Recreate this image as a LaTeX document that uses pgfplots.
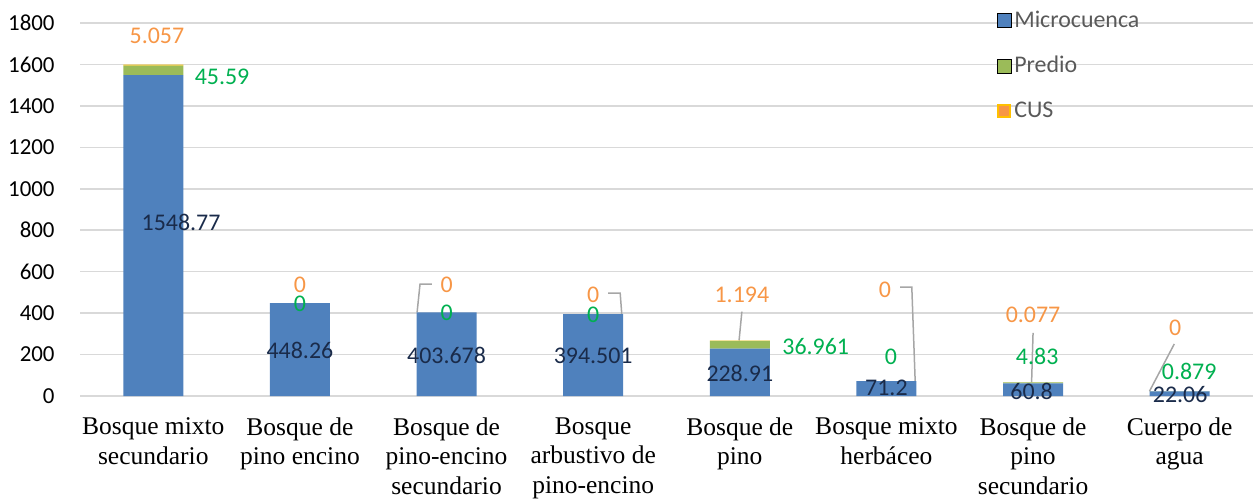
\documentclass[border=0pt]{standalone}
\usepackage{pgfplots}
\pgfplotsset{compat=1.18}
\usepackage{fontspec}
\setmainfont{Liberation Serif}
\newfontfamily\calibri{Carlito}
\definecolor{mcblue}{HTML}{4F81BD}
\definecolor{prgreen}{HTML}{9BBB59}
\definecolor{cusorange}{HTML}{F79646}
\definecolor{cusgold}{HTML}{FFC000}
\definecolor{lblorange}{HTML}{F79646}
\definecolor{lblgreen}{HTML}{00B050}
\definecolor{lblnavy}{HTML}{1A2B4A}
\definecolor{gridgray}{HTML}{D9D9D9}
\definecolor{leadergray}{HTML}{A6A6A6}
\definecolor{legtext}{HTML}{595959}
\tikzset{dl/.style={font=\calibri\fontsize{12}{14}\selectfont, inner sep=0pt, anchor=center},
  ld/.style={draw=leadergray, line width=0.75bp}}
\begin{document}
\begin{tikzpicture}
\useasboundingbox (0,0) rectangle (626.5bp,249.5bp);
\begin{axis}[
  at={(40bp,51.5bp)}, anchor=south west,
  scale only axis, width=586.5bp, height=186.5bp,
  ybar stacked, bar width=30bp,
  xmin=-0.5, xmax=7.5, ymin=0, ymax=1800,
  ytick={0,200,...,1800},
  xtick={0,...,7},
  xticklabels={{Bosque mixto\\secundario},{Bosque de\\pino encino},{Bosque de\\pino-encino\\secundario},{Bosque\\arbustivo de\\pino-encino},{Bosque de\\pino},{Bosque mixto\\herbáceo},{Bosque de\\pino\\secundario},{Cuerpo de\\agua}},
  axis line style={draw=none},
  major tick length=0pt,
  ymajorgrids, grid style={gridgray, line width=0.75bp},
  /pgf/number format/assume math mode=true,
  /pgf/number format/1000 sep={},
  yticklabel style={font=\calibri\fontsize{11.5}{13}\selectfont, anchor=east, inner sep=0pt, xshift=-12.5bp},
  xticklabel style={font=\fontsize{12.8}{15}\selectfont, align=center, anchor=north, inner sep=0pt, yshift=-10.5bp},
  clip=false,
  legend cell align=left,
  legend image code/.code={\draw[#1] (0bp,-3.5bp) rectangle (7bp,3.5bp);},
  legend style={draw=none, fill=none, at={(axis description cs:0.781,1.042)}, anchor=north west,
    font=\calibri\fontsize{12}{14}\selectfont, text=legtext, inner sep=0pt, row sep=10bp,
    nodes={inner sep=1.5bp}},
]
\addplot[fill=mcblue, draw=none] coordinates {(0,1548.77) (1,448.26) (2,403.678) (3,394.501) (4,228.91) (5,71.2) (6,60.8) (7,22.06)};
\addlegendentry{Microcuenca}
\addplot[fill=prgreen, draw=none] coordinates {(0,45.59) (1,0) (2,0) (3,0) (4,36.961) (5,0) (6,4.83) (7,0.879)};
\addlegendentry{Predio}
\addplot[fill=cusgold, draw=none,
  legend image code/.code={\draw[fill=cusorange, draw=cusgold, line width=0.9bp] (0.45bp,-3.05bp) rectangle (6.55bp,3.05bp);}]
  coordinates {(0,5.057) (1,0) (2,0) (3,0) (4,1.194) (5,0) (6,0.077) (7,0)};
\addlegendentry{CUS}

\draw[ld] (axis cs:1.799,403.7) -- (axis cs:1.819,540) -- (axis cs:1.899,540);
\draw[ld] (axis cs:3.102,497) -- (axis cs:3.184,497) -- (axis cs:3.195,394.5);
\draw[ld] (axis cs:3.995,268) -- (axis cs:4.014,407);
\draw[ld] (axis cs:5.093,526) -- (axis cs:5.173,526) -- (axis cs:5.196,71.2);
\draw[ld] (axis cs:6.0,305) -- (axis cs:5.99,66);
\draw[ld] (axis cs:6.963,251) -- (axis cs:6.794,23);

\coordinate (m0) at (axis cs:0.189,836);
\coordinate (m1) at (axis cs:1.0,222);
\coordinate (m2) at (axis cs:2.0,198);
\coordinate (m3) at (axis cs:3.0,193);
\coordinate (m4) at (axis cs:4.0,111);
\coordinate (m5) at (axis cs:5.0,39);
\coordinate (m6) at (axis cs:5.99,21);
\coordinate (m7) at (axis cs:7.003,5);

\coordinate (p0) at (axis cs:0.469,1540);
\coordinate (p1) at (axis cs:1.0,447);
\coordinate (p2) at (axis cs:2.0,400);
\coordinate (p3) at (axis cs:3.0,391);
\coordinate (p4) at (axis cs:4.518,241);
\coordinate (p5) at (axis cs:5.03,190);
\coordinate (p6) at (axis cs:6.028,190);
\coordinate (p7) at (axis cs:7.065,117);

\coordinate (c0) at (axis cs:0.025,1737);
\coordinate (c1) at (axis cs:1.0,536);
\coordinate (c2) at (axis cs:2.0,536);
\coordinate (c3) at (axis cs:3.0,487);
\coordinate (c4) at (axis cs:4.014,487);
\coordinate (c5) at (axis cs:4.99,511);
\coordinate (c6) at (axis cs:6.0,391);
\coordinate (c7) at (axis cs:6.97,328);
\end{axis}
\node[dl, text=lblnavy] at (m0) {1548.77};
\node[dl, text=lblnavy] at (m1) {448.26};
\node[dl, text=lblnavy] at (m2) {403.678};
\node[dl, text=lblnavy] at (m3) {394.501};
\node[dl, text=lblnavy] at (m4) {228.91};
\node[dl, text=lblnavy] at (m5) {71.2};
\node[dl, text=lblnavy] at (m6) {60.8};
\node[dl, text=lblnavy] at (m7) {22.06};

\node[dl, text=lblgreen] at (p0) {45.59};
\node[dl, text=lblgreen] at (p1) {0};
\node[dl, text=lblgreen] at (p2) {0};
\node[dl, text=lblgreen] at (p3) {0};
\node[dl, text=lblgreen] at (p4) {36.961};
\node[dl, text=lblgreen] at (p5) {0};
\node[dl, text=lblgreen] at (p6) {4.83};
\node[dl, text=lblgreen] at (p7) {0.879};

\node[dl, text=lblorange] at (c0) {5.057};
\node[dl, text=lblorange] at (c1) {0};
\node[dl, text=lblorange] at (c2) {0};
\node[dl, text=lblorange] at (c3) {0};
\node[dl, text=lblorange] at (c4) {1.194};
\node[dl, text=lblorange] at (c5) {0};
\node[dl, text=lblorange] at (c6) {0.077};
\node[dl, text=lblorange] at (c7) {0};
\end{tikzpicture}
\end{document}
